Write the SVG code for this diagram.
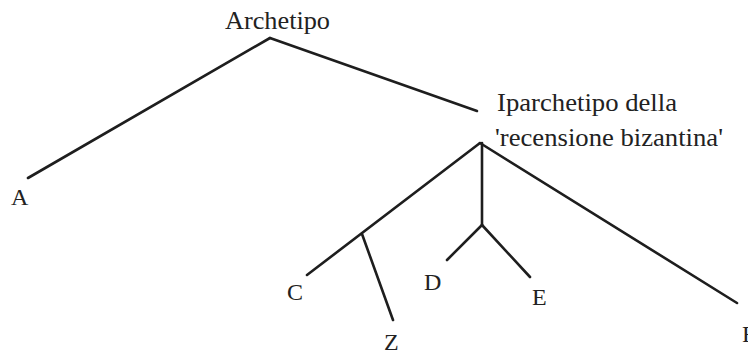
<svg xmlns="http://www.w3.org/2000/svg" width="748" height="356" viewBox="0 0 748 356">
<style>
.e{stroke:#1e1e1e;stroke-width:2.6;fill:none;stroke-linecap:round}
text{font-family:"Liberation Serif","DejaVu Serif",serif;fill:#222;font-size:25px}
.l{font-size:24px}
</style>
<rect width="748" height="356" fill="#fff"/>
<g id="connectors">
<line class="e" x1="270" y1="38" x2="28" y2="178"/>
<line class="e" x1="270" y1="38" x2="477" y2="111"/>
<line class="e" x1="480" y1="143" x2="307" y2="275"/>
<line class="e" x1="362" y1="234" x2="393" y2="320"/>
<line class="e" x1="482" y1="143" x2="482" y2="225"/>
<line class="e" x1="482" y1="225" x2="447" y2="260"/>
<line class="e" x1="482" y1="225" x2="530" y2="277"/>
<line class="e" x1="480" y1="143" x2="737" y2="303"/>
</g>
<g id="archetipo"><text x="225" y="29" textLength="105" lengthAdjust="spacingAndGlyphs">Archetipo</text></g>
<g id="iparchetipo">
<text x="497" y="111" textLength="180" lengthAdjust="spacingAndGlyphs">Iparchetipo della</text>
<text x="495" y="146" textLength="228" lengthAdjust="spacingAndGlyphs">'recensione bizantina'</text>
</g>
<g id="A"><text class="l" x="11" y="205">A</text></g>
<g id="C"><text class="l" x="287" y="300">C</text></g>
<g id="Z"><text class="l" x="384" y="350">Z</text></g>
<g id="D"><text class="l" x="424" y="290">D</text></g>
<g id="E"><text class="l" x="532" y="305">E</text></g>
<g id="F"><text class="l" x="742" y="342">F</text></g>
</svg>
